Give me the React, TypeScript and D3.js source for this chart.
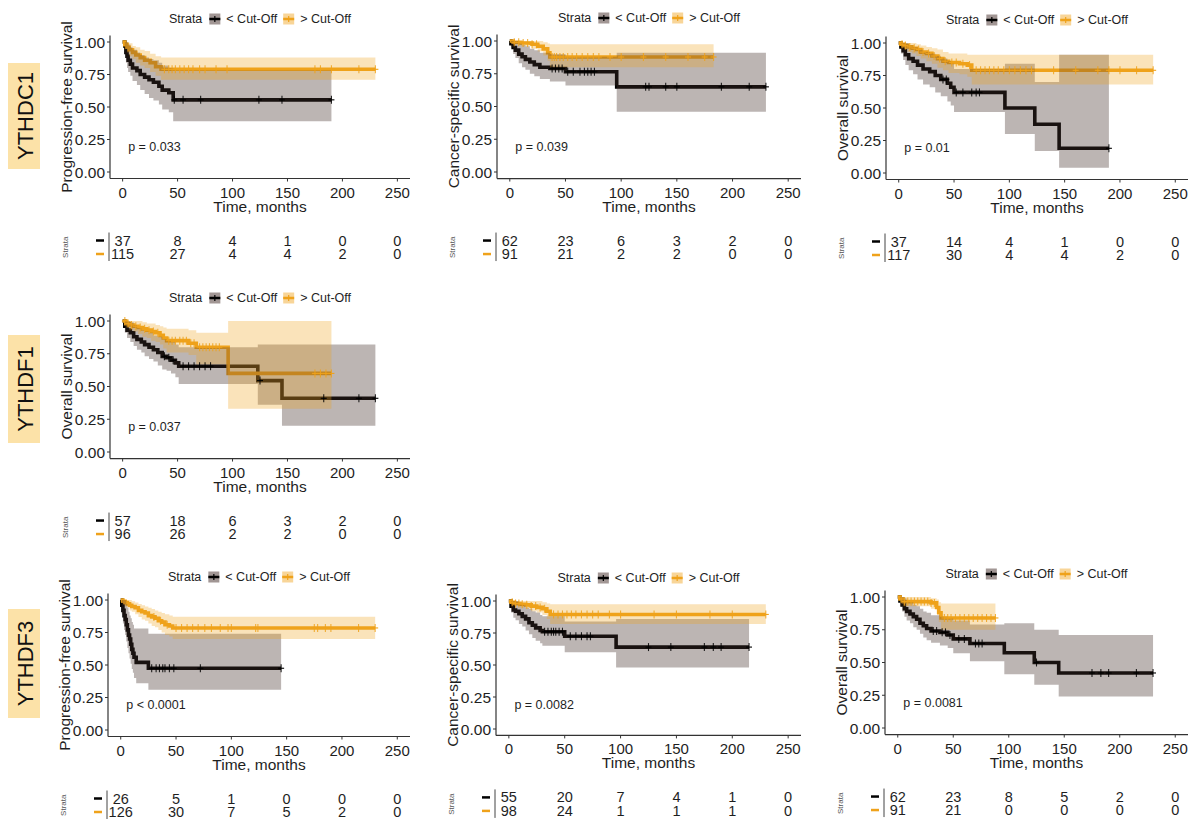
import React, { useEffect, useRef } from 'react';
import * as d3 from 'd3';

const timeTicks = [0, 50, 100, 150, 200, 250];
const survTicks = [0, 0.25, 0.5, 0.75, 1];
const strataLabels = ['< Cut-Off', '> Cut-Off'];
const geneLabels = ['YTHDC1', 'YTHDF1', 'YTHDF3'];

// --- YTHDC1, progression-free survival
const ythdc1PfsLow = {
    t: [0, 2, 3, 4, 5, 7, 9, 13, 16, 20, 24, 28, 33, 36, 42, 46],
    s: [1, .97, .92, .89, .86, .83, .80, .78, .75, .73, .71, .69, .66, .63, .61, .555],
    lo: [1, .91, .84, .80, .77, .74, .70, .67, .63, .60, .57, .55, .52, .48, .46, .39],
    hi: [1, 1, 1, 1, .98, .96, .94, .92, .90, .88, .87, .86, .84, .82, .80, .78],
    end: 190,
    censor: [47, 55, 71, 124, 145, 190],
};
const ythdc1PfsHigh = {
    t: [0, 2, 4, 6, 9, 12, 16, 20, 25, 30, 35],
    s: [1, .98, .96, .94, .92, .90, .88, .86, .84, .81, .79],
    lo: [1, .95, .92, .89, .87, .84, .82, .80, .77, .74, .71],
    hi: [1, 1, 1, .99, .97, .96, .94, .93, .91, .89, .88],
    end: 230,
    censor: [38, 42, 45, 48, 52, 56, 60, 64, 70, 75, 85, 95, 175, 180, 190, 215, 230],
};

// --- YTHDC1, cancer-specific survival
const ythdc1CssLow = {
    t: [0, 1, 3, 5, 8, 11, 14, 18, 22, 27, 36, 50, 96],
    s: [1, .98, .95, .93, .90, .88, .86, .84, .82, .80, .79, .765, .65],
    lo: [1, .95, .90, .87, .83, .80, .78, .75, .73, .71, .69, .66, .46],
    hi: [1, 1, 1, 1, .98, .97, .96, .94, .93, .91, .90, .88, .91],
    end: 230,
    censor: [38, 41, 44, 47, 52, 57, 63, 67, 70, 73, 76, 122, 125, 140, 150, 190, 215, 230],
};
const ythdc1CssHigh = {
    t: [0, 3, 10, 20, 25, 30, 34, 36],
    s: [1, .99, .985, .975, .96, .94, .91, .878],
    lo: [1, .97, .96, .94, .92, .89, .85, .80],
    hi: [1, 1, 1, 1, 1, .99, .98, .975],
    end: 183,
    censor: [4, 8, 12, 16, 20, 24, 38, 40, 42, 45, 48, 52, 56, 60, 65, 70, 75, 80, 90, 100, 120, 140, 160, 175, 183],
};

// --- YTHDC1, overall survival
const ythdc1OsLow = {
    t: [0, 2, 4, 6, 9, 13, 17, 22, 28, 33, 38, 44, 47, 50, 96, 123, 145],
    s: [1, .97, .94, .91, .88, .86, .83, .80, .78, .75, .72, .69, .66, .62, .50, .375, .19],
    lo: [1, .92, .87, .83, .79, .76, .72, .68, .66, .62, .59, .55, .52, .47, .30, .17, .04],
    hi: [1, 1, 1, 1, .98, .97, .95, .93, .92, .90, .88, .86, .84, .80, .84, .70, .91],
    end: 190,
    censor: [40, 43, 52, 58, 66, 70, 73, 190],
};
const ythdc1OsHigh = {
    t: [0, 2, 5, 8, 12, 16, 20, 25, 30, 35, 40, 45, 55, 62, 66],
    s: [1, .99, .98, .97, .96, .95, .93, .92, .90, .88, .86, .85, .84, .83, .79],
    lo: [1, .97, .95, .93, .92, .90, .88, .86, .84, .81, .79, .77, .76, .74, .68],
    hi: [1, 1, 1, 1, 1, .99, .98, .97, .96, .95, .93, .92, .92, .91, .91],
    end: 230,
    censor: [3, 6, 10, 14, 18, 22, 27, 32, 37, 42, 48, 52, 58, 64, 70, 74, 78, 82, 86, 90, 95, 100, 105, 110, 115, 120, 140, 160, 180, 190, 200, 215, 230],
};

// --- YTHDF1, overall survival
const ythdf1OsLow = {
    t: [0, 2, 4, 7, 10, 13, 17, 20, 24, 28, 32, 36, 40, 44, 48, 51, 123, 145],
    s: [1, .96, .93, .91, .88, .86, .84, .82, .80, .78, .76, .73, .72, .70, .68, .655, .545, .41],
    lo: [1, .91, .87, .84, .81, .78, .76, .73, .71, .69, .66, .63, .62, .60, .57, .52, .36, .20],
    hi: [1, 1, 1, .99, .97, .95, .93, .92, .91, .89, .88, .86, .85, .84, .82, .80, .82, .82],
    end: 230,
    censor: [38, 42, 46, 55, 60, 65, 70, 75, 80, 125, 183, 215, 230],
};
const ythdf1OsHigh = {
    t: [0, 3, 6, 10, 14, 18, 22, 26, 30, 34, 37, 40, 60, 67, 96],
    s: [1, .98, .97, .96, .95, .94, .93, .92, .91, .89, .87, .85, .83, .80, .60],
    lo: [1, .95, .93, .92, .90, .88, .87, .85, .84, .82, .79, .76, .74, .67, .33],
    hi: [1, 1, 1, 1, 1, .99, .98, .98, .97, .96, .95, .94, .93, .91, 1],
    end: 190,
    censor: [2, 5, 8, 12, 16, 20, 24, 28, 32, 42, 45, 48, 52, 55, 58, 62, 65, 70, 73, 76, 79, 82, 85, 88, 175, 180, 185, 190],
};

// --- YTHDF3, progression-free survival
const ythdf3PfsLow = {
    t: [0, 1, 2, 3, 4, 5, 6, 7, 8, 9, 10, 11, 12, 14, 25],
    s: [1, .96, .92, .88, .85, .81, .77, .73, .70, .66, .62, .59, .56, .52, .475],
    lo: [1, .89, .82, .77, .73, .68, .63, .59, .55, .51, .47, .44, .40, .36, .31],
    hi: [1, 1, 1, 1, 1, .97, .94, .91, .88, .86, .83, .81, .78, .78, .74],
    end: 145,
    censor: [28, 32, 35, 38, 40, 44, 48, 72, 145],
};
const ythdf3PfsHigh = {
    t: [0, 2, 4, 6, 8, 10, 13, 16, 19, 22, 25, 28, 31, 34, 37, 40, 44, 47],
    s: [1, .99, .98, .97, .96, .95, .94, .92, .91, .90, .88, .87, .86, .84, .83, .81, .80, .785],
    lo: [1, .97, .95, .94, .92, .91, .89, .87, .85, .84, .82, .80, .79, .77, .75, .73, .72, .70],
    hi: [1, 1, 1, 1, 1, .99, .98, .97, .96, .95, .94, .93, .92, .91, .90, .89, .88, .872],
    end: 230,
    censor: [30, 36, 42, 50, 55, 60, 65, 70, 76, 82, 90, 97, 100, 122, 124, 175, 178, 185, 190, 215, 230],
};

// --- YTHDF3, cancer-specific survival
const ythdf3CssLow = {
    t: [0, 2, 4, 6, 9, 12, 15, 18, 21, 24, 28, 30, 50, 96],
    s: [1, .96, .93, .92, .90, .88, .86, .83, .81, .79, .77, .76, .725, .64],
    lo: [1, .91, .87, .85, .82, .80, .77, .74, .71, .69, .67, .65, .60, .48],
    hi: [1, 1, 1, 1, .98, .97, .95, .94, .92, .91, .89, .88, .84, .86],
    end: 215,
    censor: [32, 35, 38, 40, 42, 45, 48, 55, 60, 65, 70, 73, 125, 145, 175, 183, 190, 215],
};
const ythdf3CssHigh = {
    t: [0, 2, 5, 10, 15, 20, 25, 30, 34, 37],
    s: [1, .99, .98, .975, .97, .96, .95, .94, .92, .895],
    lo: [1, .97, .96, .95, .94, .92, .91, .89, .86, .82],
    hi: [1, 1, 1, 1, 1, 1, 1, .99, .98, .975],
    end: 230,
    censor: [3, 6, 9, 12, 16, 20, 24, 28, 32, 40, 44, 48, 52, 56, 60, 65, 70, 75, 80, 90, 100, 130, 150, 180, 200, 230],
};

// --- YTHDF3, overall survival
const ythdf3OsLow = {
    t: [0, 2, 4, 6, 8, 11, 14, 17, 20, 23, 26, 30, 38, 45, 50, 65, 96, 123, 145],
    s: [1, .97, .94, .91, .89, .87, .85, .83, .80, .78, .76, .74, .73, .71, .68, .645, .575, .50, .42],
    lo: [1, .93, .89, .85, .82, .80, .77, .75, .72, .69, .67, .65, .63, .61, .57, .51, .41, .33, .24],
    hi: [1, 1, 1, .99, .97, .96, .94, .93, .91, .89, .88, .86, .85, .84, .82, .79, .80, .75, .71],
    end: 230,
    censor: [32, 35, 40, 43, 47, 55, 60, 70, 73, 76, 125, 175, 183, 190, 215, 230],
};
const ythdf3OsHigh = {
    t: [0, 2, 5, 30, 35, 37, 39],
    s: [1, .985, .965, .955, .92, .88, .84],
    lo: [1, .96, .93, .91, .87, .81, .75],
    hi: [1, 1, 1, .99, .98, .96, .95],
    end: 88,
    censor: [3, 6, 9, 12, 15, 18, 21, 24, 27, 30, 33, 42, 45, 48, 52, 56, 60, 64, 68, 72, 76, 80, 84, 88],
};

// numbers at risk at each time tick
const riskYthdc1Pfs = [[37, 8, 4, 1, 0, 0], [115, 27, 4, 4, 2, 0]];
const riskYthdc1Css = [[62, 23, 6, 3, 2, 0], [91, 21, 2, 2, 0, 0]];
const riskYthdc1Os = [[37, 14, 4, 1, 0, 0], [117, 30, 4, 4, 2, 0]];
const riskYthdf1Os = [[57, 18, 6, 3, 2, 0], [96, 26, 2, 2, 0, 0]];
const riskYthdf3Pfs = [[26, 5, 1, 0, 0, 0], [126, 30, 7, 5, 2, 0]];
const riskYthdf3Css = [[55, 20, 7, 4, 1, 0], [98, 24, 1, 1, 1, 0]];
const riskYthdf3Os = [[62, 23, 8, 5, 2, 0], [91, 21, 0, 0, 0, 0]];

const panels = [
    { ylab: 'Progression-free survival', low: ythdc1PfsLow, high: ythdc1PfsHigh, risk: riskYthdc1Pfs, p: 'p = 0.033' },
    { ylab: 'Cancer-specific survival', low: ythdc1CssLow, high: ythdc1CssHigh, risk: riskYthdc1Css, p: 'p = 0.039' },
    { ylab: 'Overall survival', low: ythdc1OsLow, high: ythdc1OsHigh, risk: riskYthdc1Os, p: 'p = 0.01' },
    { ylab: 'Overall survival', low: ythdf1OsLow, high: ythdf1OsHigh, risk: riskYthdf1Os, p: 'p = 0.037' },
    { ylab: 'Progression-free survival', low: ythdf3PfsLow, high: ythdf3PfsHigh, risk: riskYthdf3Pfs, p: 'p < 0.0001' },
    { ylab: 'Cancer-specific survival', low: ythdf3CssLow, high: ythdf3CssHigh, risk: riskYthdf3Css, p: 'p = 0.0082' },
    { ylab: 'Overall survival', low: ythdf3OsLow, high: ythdf3OsHigh, risk: riskYthdf3Os, p: 'p = 0.0081' },
];

// pixel frame of each panel: left/right of the x axis, y of survival 1 and 0
const frames = [
    { left: 110, right: 410, top: 42, bottom: 172 },
    { left: 497, right: 801, top: 41, bottom: 172 },
    { left: 886, right: 1188, top: 43, bottom: 173 },
    { left: 110, right: 410, top: 321, bottom: 452 },
    { left: 108, right: 410, top: 600, bottom: 730 },
    { left: 496, right: 801, top: 601, bottom: 729 },
    { left: 885, right: 1188, top: 597, bottom: 728 },
];
const geneBoxes = [
    { x: 8, y: 63, w: 32, h: 106 },
    { x: 8, y: 335, w: 32, h: 108 },
    { x: 8, y: 609, w: 32, h: 109 },
];

const FONT = '"Liberation Sans", Arial, Helvetica, sans-serif';
const colors = ['#000000', '#EFA21B'];
const ribbonColors = ['#46322d', '#EFA21B'];
const ribbonOpacity = [0.36, 0.3];
const textColor = '#1e1e1e';

const App = () => {
    const svgRef = useRef(null);

    useEffect(() => {
        const svg = d3.select(svgRef.current);
        svg.selectAll('*').remove();

        // gene labels on the left
        geneBoxes.forEach((b, i) => {
            svg.append('rect')
                .attr('x', b.x).attr('y', b.y)
                .attr('width', b.w).attr('height', b.h)
                .attr('fill', '#FCE2A8');
            svg.append('text')
                .attr('transform', `translate(${b.x + b.w / 2 + 1},${b.y + b.h / 2}) rotate(-90)`)
                .attr('text-anchor', 'middle')
                .attr('dominant-baseline', 'central')
                .style('font-family', FONT)
                .style('font-size', '22px')
                .attr('fill', '#111')
                .text(geneLabels[i]);
        });

        panels.forEach((panel, pi) => {
            const f = frames[pi];
            const x = d3.scaleLinear().domain([-11.5, 261.5]).range([f.left, f.right]);
            const y = d3.scaleLinear().domain([0, 1]).range([f.bottom, f.top]);
            const axisY = y(-0.05);
            const g = svg.append('g');

            const curves = [panel.low, panel.high];
            const toPoints = (c) => {
                const pts = c.t.map((t, i) => ({ t, s: c.s[i], lo: c.lo[i], hi: c.hi[i] }));
                const last = pts[pts.length - 1];
                pts.push({ ...last, t: c.end });
                return pts;
            };

            const line = d3.line()
                .x(d => x(d.t))
                .y(d => y(d.s))
                .curve(d3.curveStepAfter);
            const area = d3.area()
                .x(d => x(d.t))
                .y0(d => y(d.lo))
                .y1(d => y(d.hi))
                .curve(d3.curveStepAfter);

            // survival lines
            curves.forEach((c, ci) => {
                g.append('path')
                    .datum(toPoints(c))
                    .attr('fill', 'none')
                    .attr('stroke', colors[ci])
                    .attr('stroke-width', 3.6)
                    .attr('d', line);
            });

            // confidence ribbons on top (as in the original)
            curves.forEach((c, ci) => {
                g.append('path')
                    .datum(toPoints(c))
                    .attr('fill', ribbonColors[ci])
                    .attr('fill-opacity', ribbonOpacity[ci])
                    .attr('d', area);
            });

            // censor marks
            curves.forEach((c, ci) => {
                c.censor.forEach(ct => {
                    const idx = Math.max(0, d3.bisectRight(c.t, ct) - 1);
                    const cx = x(ct);
                    const cy = y(c.s[idx]);
                    g.append('line')
                        .attr('x1', cx).attr('x2', cx)
                        .attr('y1', cy - 4).attr('y2', cy + 4)
                        .attr('stroke', colors[ci]).attr('stroke-width', 1.1)
                        .attr('stroke-opacity', 0.85);
                    g.append('line')
                        .attr('x1', cx - 3).attr('x2', cx + 3)
                        .attr('y1', cy).attr('y2', cy)
                        .attr('stroke', colors[ci]).attr('stroke-width', 1.1);
                });
            });

            // axes
            g.append('line')
                .attr('x1', f.left).attr('x2', f.left)
                .attr('y1', y(1.05)).attr('y2', axisY)
                .attr('stroke', '#333').attr('stroke-width', 1.2);
            g.append('line')
                .attr('x1', f.left).attr('x2', f.right)
                .attr('y1', axisY).attr('y2', axisY)
                .attr('stroke', '#333').attr('stroke-width', 1.2);

            survTicks.forEach(v => {
                g.append('line')
                    .attr('x1', f.left - 3).attr('x2', f.left)
                    .attr('y1', y(v)).attr('y2', y(v))
                    .attr('stroke', '#333');
                g.append('text')
                    .attr('x', f.left - 5).attr('y', y(v))
                    .attr('text-anchor', 'end')
                    .attr('dominant-baseline', 'central')
                    .style('font-family', FONT).style('font-size', '15.5px')
                    .attr('fill', textColor)
                    .text(d3.format('.2f')(v));
            });
            timeTicks.forEach(t => {
                g.append('line')
                    .attr('x1', x(t)).attr('x2', x(t))
                    .attr('y1', axisY).attr('y2', axisY + 3)
                    .attr('stroke', '#333');
                g.append('text')
                    .attr('x', x(t)).attr('y', axisY + 13.5)
                    .attr('text-anchor', 'middle')
                    .attr('dominant-baseline', 'central')
                    .style('font-family', FONT).style('font-size', '15px')
                    .attr('fill', textColor)
                    .text(t);
            });

            // axis titles
            g.append('text')
                .attr('x', (f.left + f.right) / 2).attr('y', axisY + 27.5)
                .attr('text-anchor', 'middle')
                .attr('dominant-baseline', 'central')
                .style('font-family', FONT).style('font-size', '15.5px')
                .attr('fill', textColor)
                .text('Time, months');
            g.append('text')
                .attr('transform', `translate(${f.left - 44},${(y(1.05) + axisY) / 2}) rotate(-90)`)
                .attr('text-anchor', 'middle')
                .attr('dominant-baseline', 'central')
                .style('font-family', FONT).style('font-size', '15.5px')
                .attr('fill', textColor)
                .text(panel.ylab);

            // p value
            g.append('text')
                .attr('x', x(5)).attr('y', y(0.19))
                .attr('dominant-baseline', 'central')
                .style('font-family', FONT).style('font-size', '12.5px')
                .attr('fill', textColor)
                .text(panel.p);

            // legend
            const leg = g.append('g');
            let cursor = 0;
            const addText = (txt) => {
                const el = leg.append('text')
                    .attr('x', cursor).attr('y', 0)
                    .attr('dominant-baseline', 'central')
                    .style('font-family', FONT).style('font-size', '12.5px')
                    .attr('fill', textColor)
                    .text(txt);
                cursor += el.node().getComputedTextLength();
            };
            const addKey = (ci) => {
                leg.append('rect')
                    .attr('x', cursor).attr('y', -5.5)
                    .attr('width', 11).attr('height', 11)
                    .attr('fill', ribbonColors[ci])
                    .attr('fill-opacity', ribbonOpacity[ci] + 0.15);
                leg.append('line')
                    .attr('x1', cursor).attr('x2', cursor + 11)
                    .attr('y1', 0).attr('y2', 0)
                    .attr('stroke', colors[ci]).attr('stroke-width', 2.5);
                leg.append('line')
                    .attr('x1', cursor + 5.5).attr('x2', cursor + 5.5)
                    .attr('y1', -3).attr('y2', 3)
                    .attr('stroke', colors[ci]).attr('stroke-width', 1.2);
                cursor += 11;
            };
            addText('Strata');
            cursor += 7;
            addKey(0);
            cursor += 6;
            addText(strataLabels[0]);
            cursor += 6;
            addKey(1);
            cursor += 6;
            addText(strataLabels[1]);
            leg.attr('transform', `translate(${(f.left + f.right) / 2 - cursor / 2},${f.top - 23})`);

            // risk table
            const rowY = [axisY + 62, axisY + 75.5];
            g.append('line')
                .attr('x1', f.left - 1).attr('x2', f.left - 1)
                .attr('y1', rowY[0] - 8).attr('y2', rowY[1] + 7)
                .attr('stroke', '#444').attr('stroke-width', 1);
            g.append('text')
                .attr('transform', `translate(${f.left - 45},${(rowY[0] + rowY[1]) / 2}) rotate(-90)`)
                .attr('text-anchor', 'middle')
                .attr('dominant-baseline', 'central')
                .style('font-family', FONT).style('font-size', '8px')
                .attr('fill', '#555')
                .text('Strata');
            panel.risk.forEach((row, ri) => {
                g.append('line')
                    .attr('x1', f.left - 14).attr('x2', f.left - 6)
                    .attr('y1', rowY[ri]).attr('y2', rowY[ri])
                    .attr('stroke', colors[ri]).attr('stroke-width', 2.5);
                row.forEach((n, i) => {
                    g.append('text')
                        .attr('x', x(timeTicks[i])).attr('y', rowY[ri])
                        .attr('text-anchor', 'middle')
                        .attr('dominant-baseline', 'central')
                        .style('font-family', FONT).style('font-size', '14.5px')
                        .attr('fill', textColor)
                        .text(n);
                });
            });
        });
    }, []);

    return (
        <svg
            ref={svgRef}
            width={1190}
            height={819}
            style={{ position: 'absolute', left: 0, top: 0, background: '#fff' }}
        ></svg>
    );
};

export default App;
